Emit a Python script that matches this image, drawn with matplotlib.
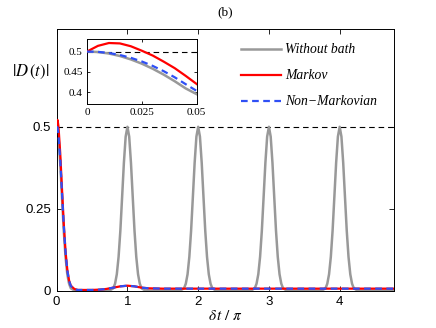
import matplotlib
matplotlib.use("Agg")
import matplotlib.pyplot as plt

plt.rcParams["mathtext.fontset"] = "stix"

# main panel: without bath (peaks at integer delta t / pi)
t_free = [0.0, 0.025, 0.05, 0.075, 0.1, 0.125, 0.15, 0.175, 0.2, 0.25, 0.3,
          0.7, 0.75, 0.8, 0.825, 0.85, 0.875, 0.9, 0.925, 0.95, 0.975, 1.0,
          1.025, 1.05, 1.075, 1.1, 1.125, 1.15, 1.175, 1.2, 1.25, 1.3,
          1.7, 1.75, 1.8, 1.825, 1.85, 1.875, 1.9, 1.925, 1.95, 1.975, 2.0,
          2.025, 2.05, 2.075, 2.1, 2.125, 2.15, 2.175, 2.2, 2.25, 2.3,
          2.7, 2.75, 2.8, 2.825, 2.85, 2.875, 2.9, 2.925, 2.95, 2.975, 3.0,
          3.025, 3.05, 3.075, 3.1, 3.125, 3.15, 3.175, 3.2, 3.25, 3.3,
          3.7, 3.75, 3.8, 3.825, 3.85, 3.875, 3.9, 3.925, 3.95, 3.975, 4.0,
          4.025, 4.05, 4.075, 4.1, 4.125, 4.15, 4.175, 4.2, 4.25, 4.3,
          4.77]
D_free = [0.5, 0.470, 0.390, 0.286, 0.183, 0.103, 0.050, 0.021, 0.007, 0.0005, 0.0,
          0.0, 0.0005, 0.007, 0.021, 0.050, 0.103, 0.183, 0.286, 0.390, 0.470, 0.5,
          0.470, 0.390, 0.286, 0.183, 0.103, 0.050, 0.021, 0.007, 0.0005, 0.0,
          0.0, 0.0005, 0.007, 0.021, 0.050, 0.103, 0.183, 0.286, 0.390, 0.470, 0.5,
          0.470, 0.390, 0.286, 0.183, 0.103, 0.050, 0.021, 0.007, 0.0005, 0.0,
          0.0, 0.0005, 0.007, 0.021, 0.050, 0.103, 0.183, 0.286, 0.390, 0.470, 0.5,
          0.470, 0.390, 0.286, 0.183, 0.103, 0.050, 0.021, 0.007, 0.0005, 0.0,
          0.0, 0.0005, 0.007, 0.021, 0.050, 0.103, 0.183, 0.286, 0.390, 0.470, 0.5,
          0.470, 0.390, 0.286, 0.183, 0.103, 0.050, 0.021, 0.007, 0.0005, 0.0,
          0.0]

# main panel: with bath
t_bath = [0.0, 0.012, 0.025, 0.05, 0.075, 0.1, 0.125, 0.15, 0.175, 0.2, 0.25,
          0.3, 0.4, 0.5, 0.6, 0.7, 0.8, 0.9, 1.0, 1.1, 1.2, 1.3, 1.5, 2.0,
          3.0, 4.0, 4.77]
D_markov = [0.5, 0.521, 0.502, 0.42, 0.31, 0.205, 0.12, 0.064, 0.031, 0.015, 0.005,
            0.002, 0.002, 0.002, 0.003, 0.005, 0.009, 0.013, 0.015, 0.013, 0.009,
            0.007, 0.006, 0.006, 0.006, 0.006, 0.006]
D_nonmarkov = [0.5, 0.498, 0.4755, 0.401, 0.300, 0.200, 0.118, 0.062, 0.030, 0.014, 0.004,
               0.002, 0.002, 0.002, 0.003, 0.005, 0.009, 0.013, 0.015, 0.013, 0.009,
               0.007, 0.006, 0.006, 0.006, 0.006, 0.006]

# inset: short times
t_in = [0.0, 0.005, 0.01, 0.015, 0.02, 0.025, 0.03, 0.035, 0.04, 0.045, 0.05]
free_in = [0.5, 0.4988, 0.4951, 0.4890, 0.4806, 0.4701, 0.4575, 0.4430, 0.4268, 0.4091, 0.3950]
markov_in = [0.5, 0.514, 0.521, 0.520, 0.513, 0.502, 0.490, 0.475, 0.459, 0.440, 0.420]
nonmarkov_in = [0.5, 0.4992, 0.4965, 0.4915, 0.4845, 0.4755, 0.4645, 0.4515, 0.4365, 0.4195, 0.403]

labels = ["Without bath", "Markov", "Non\u2212Markovian"]
gray = "#999999"
red = "#ff0000"
blue = "#2f4ff5"

fig = plt.figure(figsize=(4.36, 3.28), dpi=100)
ax = fig.add_axes([0.130, 0.114, 0.774, 0.799])

ax.axhline(0.5, color="k", lw=0.8, ls=(0, (5, 3.5)), zorder=1)
ax.plot(t_free, D_free, color=gray, lw=1.8, label=labels[0], zorder=2)
ax.plot(t_bath, D_markov, color=red, lw=1.6, label=labels[1], zorder=3)
ax.plot(t_bath, D_nonmarkov, color=blue, lw=1.6, ls=(0, (3, 2)), label=labels[2], zorder=4)

ax.set_xlim(0, 4.77)
ax.set_ylim(0, 0.8)
ax.set_xticks([0, 1, 2, 3, 4])
ax.set_yticks([0, 0.25, 0.5])
ax.set_yticklabels(["0", "0.25", "0.5"])
ax.tick_params(direction="in", top=True, right=True, length=3.5, width=0.6,
               labelsize=9.5, pad=4)
for lab in ax.get_xticklabels() + ax.get_yticklabels():
    lab.set_family("Liberation Sans")
for s in ax.spines.values():
    s.set_linewidth(0.7)

ax.set_xlabel(r"$\delta\,t\ /\ \pi$", fontsize=11, labelpad=0)
fig.text(0.071, 0.78, r"$|D\,(t)|$", fontsize=12, ha="center", va="center")
fig.text(0.517, 0.962, "(b)", fontsize=9.5, family="Liberation Serif",
         ha="center", va="center")

leg = ax.legend(loc="upper right", frameon=False, handlelength=2.9,
                handletextpad=0.3, labelspacing=0.95,
                bbox_to_anchor=(0.985, 0.99), borderaxespad=0.5,
                prop={"family": "Liberation Serif", "style": "italic", "size": 9.8})

ins = fig.add_axes([0.1995, 0.682, 0.2516, 0.198])
ins.axhline(0.5, color="k", lw=0.8, ls=(0, (5, 3.5)), zorder=1)
ins.plot(t_in, free_in, color=gray, lw=1.8, zorder=2)
ins.plot(t_in, markov_in, color=red, lw=1.6, zorder=3)
ins.plot(t_in, nonmarkov_in, color=blue, lw=1.6, ls=(0, (3, 2)), zorder=4)
ins.set_xlim(0, 0.05)
ins.set_ylim(0.37, 0.53)
ins.set_xticks([0, 0.025, 0.05])
ins.set_xticklabels(["0", "0.025", "0.05"])
ins.set_yticks([0.4, 0.45, 0.5])
ins.set_yticklabels(["0.4", "0.45", "0.5"])
ins.tick_params(direction="in", top=True, right=True, length=2.5, width=0.6,
                labelsize=8, pad=3)
for lab in ins.get_xticklabels() + ins.get_yticklabels():
    lab.set_family("Liberation Serif")
for s in ins.spines.values():
    s.set_linewidth(0.7)

fig.savefig("out.png", dpi=100)
